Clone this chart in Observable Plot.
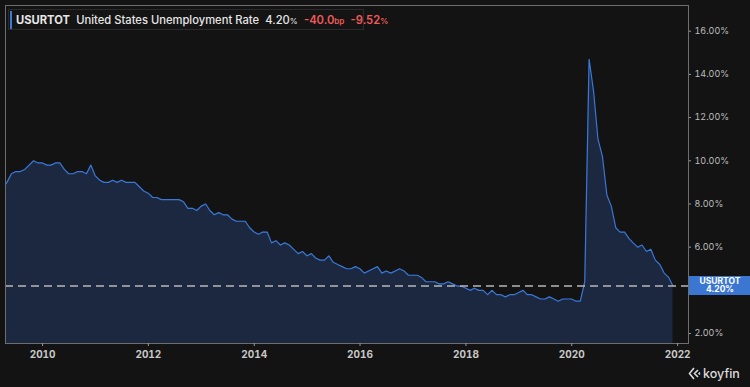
<!DOCTYPE html>
<html>
<head>
<meta charset="utf-8">
<script src="https://cdn.jsdelivr.net/npm/d3@7"></script>
<script src="https://cdn.jsdelivr.net/npm/@observablehq/plot@0.6"></script>
<style>
  html, body { margin: 0; padding: 0; background: #131313; }
  #wrap { position: relative; width: 750px; height: 387px; overflow: hidden; font-family: Inter, "Noto Sans", sans-serif; }
  #legend { position: absolute; left: 8px; top: 9px; width: 356px; height: 21px; box-sizing: border-box;
            border: 1px solid #2a2a2a; background: #141414; }
  #legend .bar { position: absolute; left: 1px; top: 1px; width: 2px; height: 18px; background: #3d7bd8; }
  #legend .txt { position: absolute; left: 7px; top: 3px; white-space: nowrap; font-size: 11.2px; color: #e6e6e6; line-height: 14px; }
  .b { font-weight: 700; }
  .m { font-weight: 500; }
  .red { color: #ef5b5b; font-weight: 600; }
  .sm { font-size: 8px; }
  #lastbox { position: absolute; left: 689px; width: 62px; height: 19px; background: #3b76d2; color: #fff;
             font-size: 8.5px; font-weight: 700; text-align: center; line-height: 8.5px; padding-top: 1px; box-sizing: border-box; }
  #logo { position: absolute; left: 688px; top: 366px; color: #dcdcdc; font-size: 12.5px; font-weight: 500; display: flex; align-items: center; }
</style>
</head>
<body>
<div id="wrap">
  <div id="chart"></div>
  <div id="legend"><div class="bar"></div><div class="txt"><span class="b">USURTOT</span>&nbsp;&nbsp;<span class="m">United States Unemployment Rate</span>&nbsp;&nbsp;<span class="m">4.20</span><span class="sm">%</span>&nbsp;&nbsp;<span class="red">-40.0</span><span class="red sm">bp</span>&nbsp;&nbsp;<span class="red">-9.52</span><span class="red sm">%</span></div></div>
  <div id="lastbox"></div>
  <div id="logo"><svg width="13" height="13" viewBox="0 0 13 13"><path d="M6 1 L1.5 6.5 L6 12 M10 3 L6.5 6.5 L10 10 M12 5.5 L11 6.5 L12 7.5" fill="none" stroke="#dcdcdc" stroke-width="1.6"/></svg><span style="margin-left:2px">koyfin</span></div>
</div>
<script>
// Series: monthly US unemployment rate (%), month-end dated, starting March 2009
const seriesTicker = "USURTOT";
const seriesName = "United States Unemployment Rate";
const startYear = 2009;
const startMonth = 3; // March
const rate2009 = [8.7, 9.0, 9.4, 9.5, 9.5, 9.6, 9.8, 10.0, 9.9, 9.9];
const rate2010 = [9.8, 9.8, 9.9, 9.9, 9.6, 9.4, 9.4, 9.5, 9.5, 9.4, 9.8, 9.3];
const rate2011 = [9.1, 9.0, 9.0, 9.1, 9.0, 9.1, 9.0, 9.0, 9.0, 8.8, 8.6, 8.5];
const rate2012 = [8.3, 8.3, 8.2, 8.2, 8.2, 8.2, 8.2, 8.1, 7.8, 7.8, 7.7, 7.9];
const rate2013 = [8.0, 7.7, 7.5, 7.6, 7.5, 7.5, 7.3, 7.2, 7.2, 7.2, 6.9, 6.7];
const rate2014 = [6.6, 6.7, 6.7, 6.2, 6.3, 6.1, 6.2, 6.1, 5.9, 5.7, 5.8, 5.6];
const rate2015 = [5.7, 5.5, 5.4, 5.4, 5.6, 5.3, 5.2, 5.1, 5.0, 5.0, 5.1, 5.0];
const rate2016 = [4.8, 4.9, 5.0, 5.1, 4.8, 4.9, 4.8, 4.9, 5.0, 4.9, 4.7, 4.7];
const rate2017 = [4.7, 4.6, 4.4, 4.4, 4.4, 4.3, 4.3, 4.4, 4.3, 4.2, 4.2, 4.1];
const rate2018 = [4.0, 4.1, 4.0, 4.0, 3.8, 4.0, 3.8, 3.8, 3.7, 3.8, 3.8, 3.9];
const rate2019 = [4.0, 3.8, 3.8, 3.7, 3.6, 3.6, 3.7, 3.6, 3.5, 3.6, 3.6, 3.6];
const rate2020 = [3.5, 3.5, 4.4, 14.7, 13.2, 11.0, 10.2, 8.4, 7.9, 6.9, 6.7, 6.7];
const rate2021 = [6.4, 6.2, 6.0, 6.1, 5.8, 5.9, 5.4, 5.2, 4.8, 4.6, 4.2];
// 4.00% tick is hidden behind the last-value box in the reference
const yTicks = [2, 6, 8, 10, 12, 14, 16];
const xTickYears = [2010, 2012, 2014, 2016, 2018, 2020, 2022];
const lastValue = 4.2;

const allRates = [].concat(rate2009, rate2010, rate2011, rate2012, rate2013, rate2014,
  rate2015, rate2016, rate2017, rate2018, rate2019, rate2020, rate2021);
const data = allRates.map((v, i) => {
  const m = startMonth - 1 + i;
  return { date: new Date(Date.UTC(startYear, m + 1, 0)), value: v };
});

const yMin = 1.54, yMax = 17.19;

const chart = Plot.plot({
  width: 750,
  height: 387,
  marginLeft: 5,
  marginRight: 62,
  marginTop: 5,
  marginBottom: 44,
  style: { background: "#131313", color: "#bbbbbb", fontFamily: "Inter, 'Noto Sans', sans-serif", overflow: "visible" },
  x: { type: "utc", domain: [new Date(Date.UTC(2009, 3, 20)), new Date(Date.UTC(2022, 2, 17))] },
  y: { domain: [yMin, yMax] },
  marks: [
    Plot.areaY(data, { x: "date", y: "value", fill: "#1b2840", clip: true }),
    Plot.lineY(data, { x: "date", y: "value", stroke: "#3a78d8", strokeWidth: 1.2, clip: true }),
    Plot.ruleY([lastValue], { stroke: "#b8b8b8", strokeDasharray: "8,5", strokeWidth: 1.4 }),
    Plot.frame({ stroke: "#6e6e6e" }),
    Plot.axisY({ anchor: "right", ticks: yTicks, tickFormat: d => d.toFixed(2) + "%", tickSize: 2, tickPadding: 4,
                 fontSize: 9, fill: "#bdbdbd", stroke: "#999", label: null }),
    Plot.axisX({ ticks: xTickYears.map(y => new Date(Date.UTC(y, 0, 1))), tickFormat: d3.utcFormat("%Y"),
                 tickSize: 3, tickPadding: 4, fontSize: 10, fontWeight: "bold", fill: "#c8c8c8", stroke: "#999", label: null })
  ]
});
document.getElementById("chart").appendChild(chart);

const yPix = chart.scale("y").apply(lastValue);
const box = document.getElementById("lastbox");
box.style.top = (yPix - 10) + "px";
box.innerHTML = seriesTicker + "<br>" + lastValue.toFixed(2) + "%";
</script>
</body>
</html>
